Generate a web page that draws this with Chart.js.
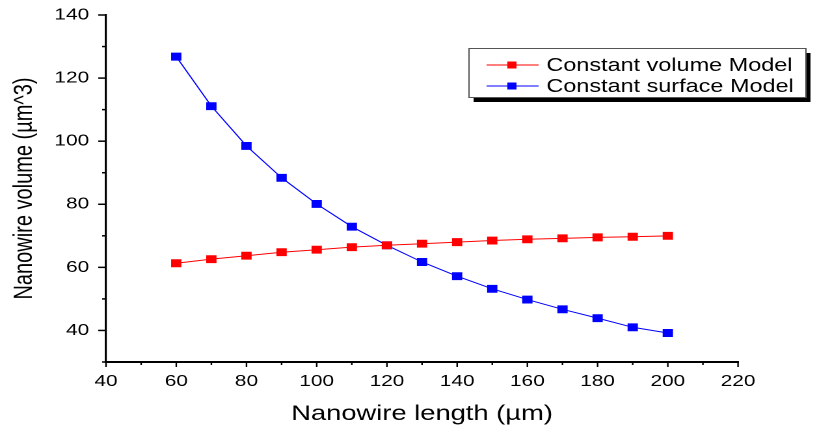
<!DOCTYPE html>
<html>
<head>
<meta charset="utf-8">
<script src="https://cdn.jsdelivr.net/npm/chart.js@4"></script>
<style>
  body { margin: 0; background: #fff; }
</style>
</head>
<body>
<!-- the reference is stretched sideways, so the canvas is drawn narrower and widened by css -->
<canvas id="chart" width="628" height="433" style="width:817px;height:433px"></canvas>
<script>
// Nanowire length (µm)
const lengths = [60, 70, 80, 90, 100, 110, 120, 130, 140, 150, 160, 170, 180, 190, 200];

// Nanowire volume (µm^3)
const constantVolume = [61.3, 62.6, 63.7, 64.8, 65.6, 66.4, 67.0, 67.5, 68.0, 68.5, 68.9, 69.2, 69.5, 69.7, 70.0];
const constantSurface = [126.8, 111.1, 98.5, 88.4, 80.1, 72.9, 67.0, 61.7, 57.2, 53.2, 49.8, 46.7, 43.9, 41.0, 39.2];

const seriesNames = ['Constant volume Model', 'Constant surface Model'];

// axis ranges and tick steps
const xRange = [40, 220];
const yRange = [30, 140];
const tickStep = 10;
const labelStep = 20;

const FONT = "'Liberation Sans', Arial, sans-serif";

function toPoints(ys) {
  return lengths.map((x, i) => ({ x: x, y: ys[i] }));
}

// outward tick marks, long on labelled values, short in between
const tickMarks = {
  id: 'tickMarks',
  afterDraw(chart) {
    const ctx = chart.ctx;
    const xs = chart.scales.x, ys = chart.scales.y;
    ctx.save();
    ctx.strokeStyle = '#000';
    ctx.lineWidth = 1.2;
    xs.ticks.forEach(t => {
      const px = xs.getPixelForValue(t.value);
      const len = t.value % labelStep === 0 ? 5 : 3;
      ctx.beginPath();
      ctx.moveTo(px, xs.top);
      ctx.lineTo(px, xs.top + len);
      ctx.stroke();
    });
    ctx.lineWidth = 1.5;
    ys.ticks.forEach(t => {
      const py = ys.getPixelForValue(t.value);
      const len = t.value % labelStep === 0 ? 6 : 3;
      ctx.beginPath();
      ctx.moveTo(ys.right, py);
      ctx.lineTo(ys.right - len, py);
      ctx.stroke();
    });
    ctx.restore();
  }
};

// Origin-style legend box with drop shadow
const boxLegend = {
  id: 'boxLegend',
  afterDraw(chart) {
    const ctx = chart.ctx;
    const x = 360, y = 48, w = 259, h = 49;
    ctx.save();
    ctx.fillStyle = '#000';
    ctx.fillRect(x + 4, y + 5, w, h);
    ctx.fillStyle = '#fff';
    ctx.fillRect(x, y, w, h);
    ctx.strokeStyle = '#555';
    ctx.lineWidth = 1;
    ctx.strokeRect(x + 0.5, y + 0.5, w, h);

    ctx.font = '18px ' + FONT;
    ctx.textBaseline = 'middle';
    chart.data.datasets.forEach((ds, i) => {
      const cy = y + 17 + i * 21;
      ctx.strokeStyle = ds.borderColor;
      ctx.lineWidth = 1;
      ctx.beginPath();
      ctx.moveTo(374, cy);
      ctx.lineTo(414, cy);
      ctx.stroke();
      ctx.fillStyle = ds.pointBackgroundColor;
      ctx.fillRect(390, cy - 3.5, 7, 7);
      ctx.fillStyle = '#000';
      ctx.fillText(ds.label, 420, cy + 1);
    });
    ctx.restore();
  }
};

new Chart(document.getElementById('chart'), {
  type: 'line',
  data: {
    datasets: [
      {
        label: seriesNames[0],
        data: toPoints(constantVolume),
        borderColor: '#ff0000',
        pointBackgroundColor: '#ff0000'
      },
      {
        label: seriesNames[1],
        data: toPoints(constantSurface),
        borderColor: '#0000ff',
        pointBackgroundColor: '#0000ff'
      }
    ]
  },
  options: {
    responsive: false,
    animation: false,
    devicePixelRatio: 2,
    layout: { padding: { top: 15, right: 60.7, bottom: 0, left: 0 } },
    elements: {
      line: { borderWidth: 1, tension: 0 },
      point: { pointStyle: 'rect', radius: 5.6, borderWidth: 0, hoverRadius: 5.6 }
    },
    plugins: {
      legend: { display: false },
      tooltip: { enabled: false }
    },
    scales: {
      x: {
        type: 'linear',
        min: xRange[0],
        max: xRange[1],
        afterFit: s => { s.height = 71; s.paddingLeft = 0; s.paddingRight = 0; },
        grid: { display: false, drawTicks: false },
        border: { display: true, color: '#000', width: 2 },
        ticks: {
          stepSize: tickStep,
          autoSkip: false,
          maxRotation: 0,
          padding: 10,
          color: '#000',
          font: { family: FONT, size: 16 },
          callback: v => (v % labelStep === 0 ? v : '')
        },
        title: {
          display: true,
          text: 'Nanowire length (µm)',
          color: '#000',
          font: { family: FONT, size: 21 },
          padding: { top: 0, bottom: 6 }
        }
      },
      y: {
        type: 'linear',
        min: yRange[0],
        max: yRange[1],
        afterFit: s => { s.width = 81.5; s.paddingTop = 0; s.paddingBottom = 0; },
        grid: { display: false, drawTicks: false },
        border: { display: true, color: '#000', width: 1.6 },
        ticks: {
          stepSize: tickStep,
          autoSkip: false,
          padding: 13,
          color: '#000',
          font: { family: FONT, size: 16 },
          callback: v => (v % labelStep === 0 ? v : '')
        },
        title: {
          display: true,
          text: 'Nanowire volume (µm^3)',
          color: '#000',
          font: { family: FONT, size: 20 },
          padding: { top: 7, bottom: 0 }
        }
      }
    }
  },
  plugins: [tickMarks, boxLegend]
});
</script>
</body>
</html>
